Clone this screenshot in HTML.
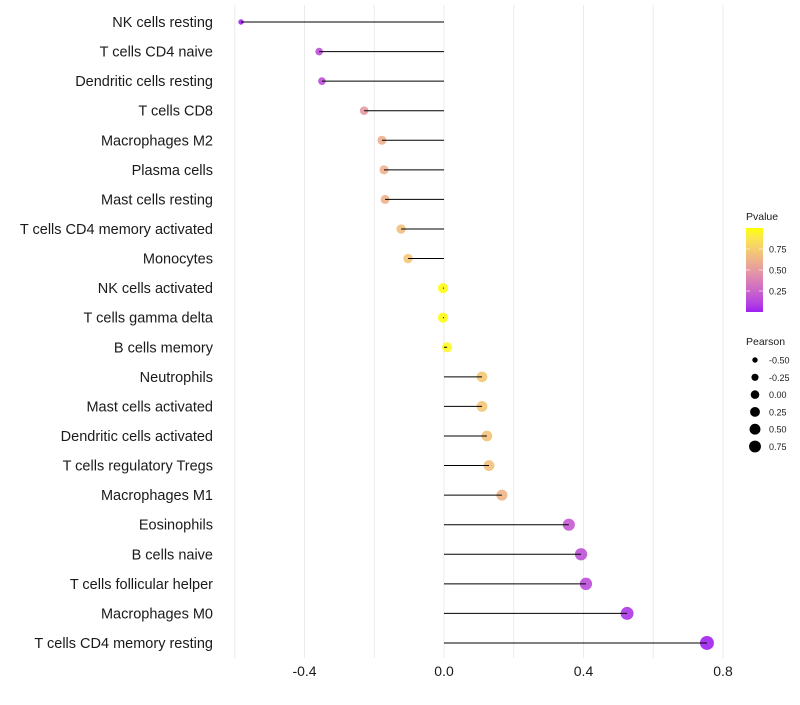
<!DOCTYPE html>
<html><head><meta charset="utf-8"><style>
body{margin:0;background:#fff;font-family:"Liberation Sans",sans-serif}
</style></head><body>
<svg id="c" width="800" height="700" xmlns="http://www.w3.org/2000/svg" font-family="Liberation Sans, sans-serif"></svg>
<script>
const cells=["NK cells resting","T cells CD4 naive","Dendritic cells resting","T cells CD8","Macrophages M2","Plasma cells","Mast cells resting","T cells CD4 memory activated","Monocytes","NK cells activated","T cells gamma delta","B cells memory","Neutrophils","Mast cells activated","Dendritic cells activated","T cells regulatory  Tregs ","Macrophages M1","Eosinophils","B cells naive","T cells follicular helper","Macrophages M0","T cells CD4 memory resting"];
const pearson=[-0.582,-0.358,-0.35,-0.229,-0.178,-0.172,-0.169,-0.123,-0.103,-0.003,-0.003,0.009,0.109,0.109,0.123,0.129,0.166,0.358,0.393,0.407,0.525,0.754];
const pvalue=[0.01,0.15,0.15,0.5,0.6,0.61,0.61,0.68,0.72,0.99,0.99,0.97,0.72,0.72,0.7,0.69,0.63,0.2,0.16,0.15,0.06,0.005];
const xTicks=[-0.4,0,0.4,0.8];
const xTickLabels=["-0.4","0.0","0.4","0.8"];
const legP=[0.25,0.5,0.75];
const legPLabels=["0.25","0.50","0.75"];
const legS=[-0.5,-0.25,0,0.25,0.5,0.75];
const legSLabels=["-0.50","-0.25","0.00","0.25","0.50","0.75"];

const svg=document.getElementById('c');const NS="http://www.w3.org/2000/svg";
function el(t,a,p){const e=document.createElementNS(NS,t);for(const k in a)e.setAttribute(k,a[k]);(p||svg).appendChild(e);return e;}
const x=v=>444+v*348.75;
const y=i=>22+i*29.57;
const rad=v=>Math.sqrt(Math.max(4,25.5+31*v));
function toLab(h){let r=[1,3,5].map(i=>parseInt(h.substr(i,2),16)/255).map(c=>c>0.04045?Math.pow((c+0.055)/1.055,2.4):c/12.92);
let X=(r[0]*0.4124+r[1]*0.3576+r[2]*0.1805)/0.95047,Y=r[0]*0.2126+r[1]*0.7152+r[2]*0.0722,Z=(r[0]*0.0193+r[1]*0.1192+r[2]*0.9505)/1.08883;
const f=t=>t>0.008856?Math.cbrt(t):7.787*t+16/116;return [116*f(Y)-16,500*(f(X)-f(Y)),200*(f(Y)-f(Z))];}
function fromLab(L){let fy=(L[0]+16)/116,fx=fy+L[1]/500,fz=fy-L[2]/200;const g=t=>t**3>0.008856?t**3:(t-16/116)/7.787;
let X=g(fx)*0.95047,Y=g(fy),Z=g(fz)*1.08883;let r=[3.2406*X-1.5372*Y-0.4986*Z,-0.9689*X+1.8758*Y+0.0415*Z,0.0557*X-0.2040*Y+1.0570*Z];
return 'rgb('+r.map(c=>{c=c>0.0031308?1.055*Math.pow(c,1/2.4)-0.055:12.92*c;return Math.round(Math.min(1,Math.max(0,c))*255)}).join(',')+')';}
const lo=toLab("#a020f0"),hi=toLab("#ffff00");
const col=p=>fromLab(lo.map((v,i)=>v+(hi[i]-v)*p));
for(let v=-0.6;v<=0.81;v+=0.2){const g=el('line',{x1:x(v),x2:x(v),y1:5,y2:658,stroke:'#ebebeb','stroke-width':1});

}
xTicks.forEach((v,i)=>{const t=el('text',{x:x(v),y:676,'text-anchor':'middle','font-size':14,fill:'#1a1a1a'});t.textContent=xTickLabels[i];

});
cells.forEach((c,i)=>{
const t=el('text',{x:213,y:y(i)+5,'text-anchor':'end','font-size':14.5,fill:'#1a1a1a'});t.textContent=c;


const pt=el('circle',{cx:x(pearson[i]),cy:y(i),r:rad(pearson[i]),fill:col(pvalue[i]),'fill-opacity':0.9});


const l=el('line',{x1:x(0),x2:x(pearson[i]),y1:y(i),y2:y(i),stroke:'#000','stroke-width':1});


});
const lt=el('text',{x:746,y:220,'font-size':10.5,fill:'#1a1a1a'});lt.textContent='Pvalue';


const defs=el('defs',{});const gr=el('linearGradient',{id:'gp',x1:0,y1:1,x2:0,y2:0},defs);
for(let k=0;k<=10;k++)el('stop',{offset:k/10,'stop-color':col(k/10)},gr);
const cb=el('rect',{x:746,y:228,width:17,height:84,fill:'url(#gp)'});


legP.forEach((p,i)=>{const yy=312-p*84;
el('line',{x1:746,x2:750,y1:yy,y2:yy,stroke:'#fff','stroke-opacity':0.6});el('line',{x1:759,x2:763,y1:yy,y2:yy,stroke:'#fff','stroke-opacity':0.6});
const t=el('text',{x:769,y:yy+3.5,'font-size':9,fill:'#1a1a1a'});t.textContent=legPLabels[i];

});
const st=el('text',{x:746,y:345,'font-size':10.5,fill:'#1a1a1a'});st.textContent='Pearson';


legS.forEach((v,i)=>{const yy=360+i*17.3;
const c=el('circle',{cx:755,cy:yy,r:rad(v)*0.85,fill:'#000'});


const t=el('text',{x:769,y:yy+3.5,'font-size':9,fill:'#1a1a1a'});t.textContent=legSLabels[i];

});
</script>
</body></html>
